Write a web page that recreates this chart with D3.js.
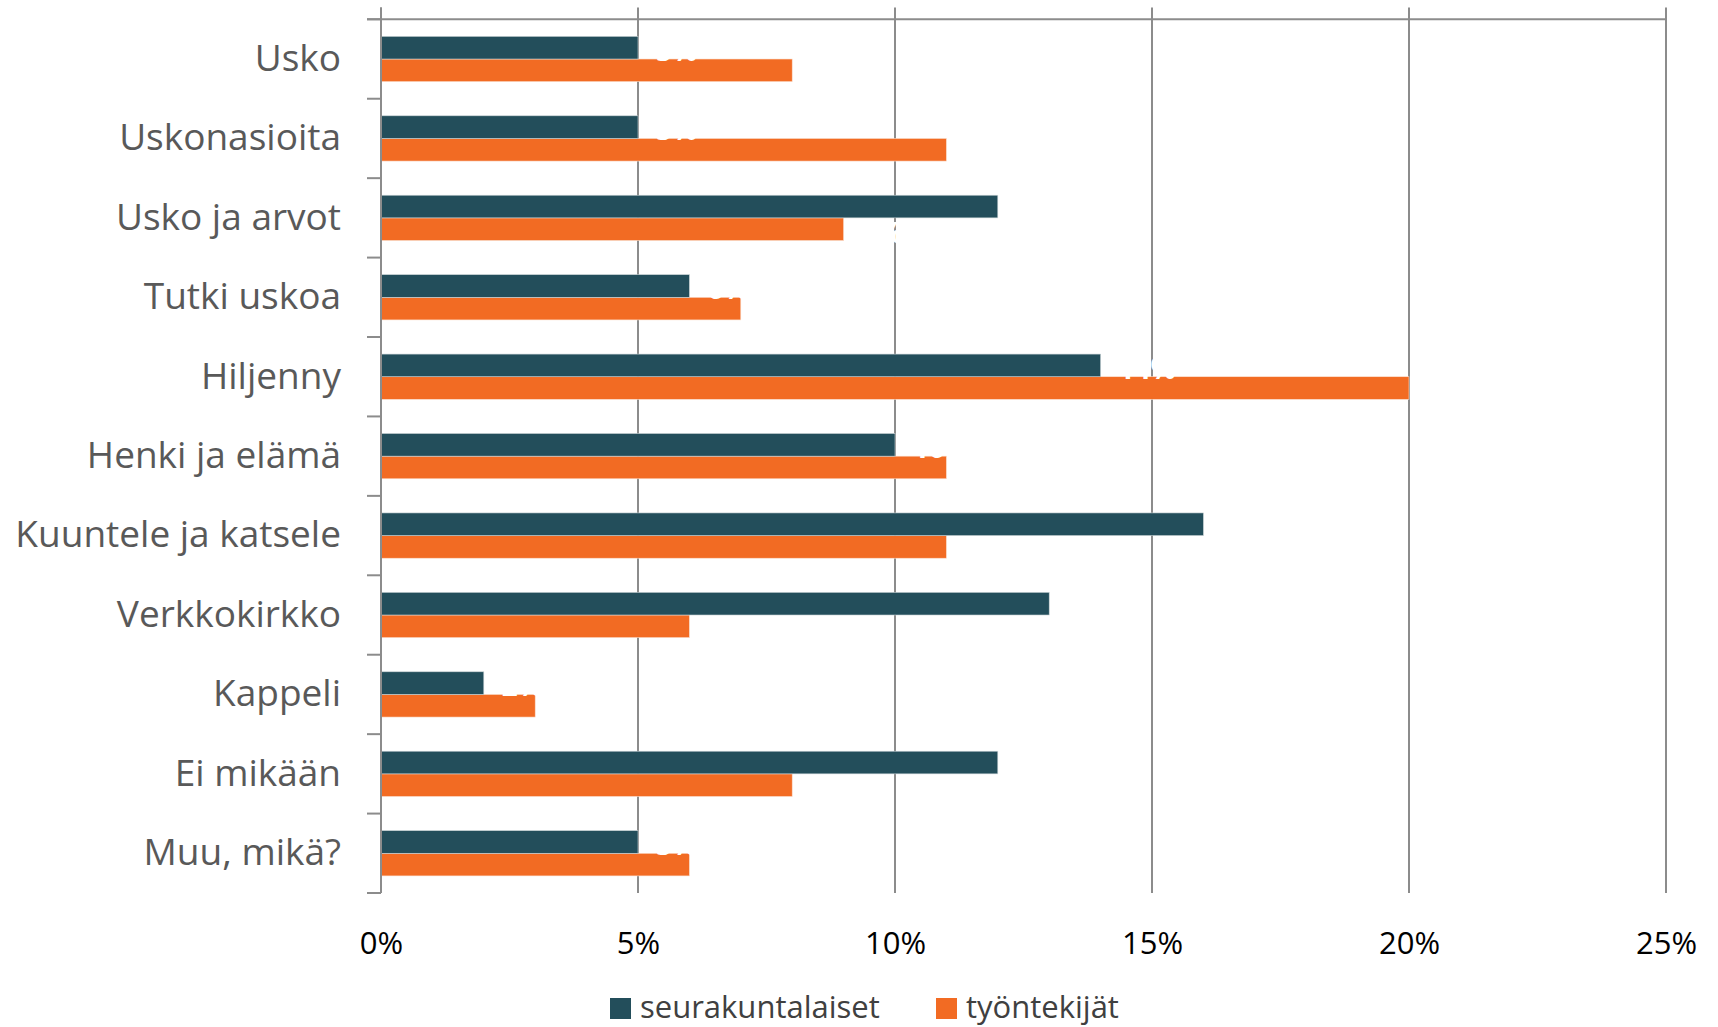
<!DOCTYPE html>
<html>
<head>
<meta charset="utf-8">
<script src="https://cdn.jsdelivr.net/npm/d3@7"></script>
<style>
  body { margin: 0; background: #fff; }
  svg { display: block; }
</style>
</head>
<body>
<div id="chart"></div>
<script>

// categories top to bottom
var categories = ["Usko", "Uskonasioita", "Usko ja arvot", "Tutki uskoa", "Hiljenny",
  "Henki ja elämä", "Kuuntele ja katsele", "Verkkokirkko", "Kappeli", "Ei mikään", "Muu, mikä?"];

var seurakuntalaiset = [0.05, 0.05, 0.12, 0.06, 0.14, 0.10, 0.16, 0.13, 0.02, 0.12, 0.05];
var tyontekijat      = [0.08, 0.11, 0.09, 0.07, 0.20, 0.11, 0.11, 0.06, 0.03, 0.08, 0.06];

var seriesNames = ["seurakuntalaiset", "työntekijät"];
var xTicks = [0, 0.05, 0.10, 0.15, 0.20, 0.25];

var colors = ["#234E5B", "#F26B23"];
var gridColor = "#8c8c8c";
var font = "'Open Sans', 'Noto Sans', sans-serif";

var width = 1718, height = 1027;

var svg = d3.select("#chart").append("svg")
  .attr("width", width)
  .attr("height", height);

var x = d3.scaleLinear()
  .domain([0, 0.25])
  .range([381, 1666]);

var y = d3.scaleBand()
  .domain(categories)
  .range([19.3, 893])
  .paddingInner(0.43)
  .paddingOuter(0.215);

var sub = d3.scaleBand()
  .domain(seriesNames)
  .range([0, y.bandwidth()]);

// vertical gridlines
svg.append("g")
  .selectAll("line")
  .data(xTicks)
  .enter()
  .append("line")
  .attr("x1", function(d){ return x(d); })
  .attr("x2", function(d){ return x(d); })
  .attr("y1", 7.5)
  .attr("y2", 893)
  .attr("stroke", gridColor)
  .attr("stroke-width", 2);

// top border line
svg.append("line")
  .attr("x1", 367).attr("x2", x(0.25))
  .attr("y1", 19.3).attr("y2", 19.3)
  .attr("stroke", gridColor)
  .attr("stroke-width", 2);

// category boundary ticks
var bounds = categories.map(function(c){ return y(c) - y.step() * y.paddingInner() / 2; });
bounds.push(893);
svg.append("g")
  .selectAll("line")
  .data(bounds)
  .enter()
  .append("line")
  .attr("x1", 367).attr("x2", x(0))
  .attr("y1", function(d){ return d; })
  .attr("y2", function(d){ return d; })
  .attr("stroke", gridColor)
  .attr("stroke-width", 2);

var rows = categories.map(function(c, i){
  return { cat: c, vals: [seurakuntalaiset[i], tyontekijat[i]] };
});

// orange bars first
svg.append("g")
  .selectAll("rect")
  .data(rows)
  .enter()
  .append("rect")
  .attr("x", x(0))
  .attr("y", function(d){ return y(d.cat) + sub(seriesNames[1]); })
  .attr("width", function(d){ return x(d.vals[1]) - x(0); })
  .attr("height", sub.bandwidth())
  .attr("fill", colors[1])
  .attr("stroke", "#fbe0d0")
  .attr("stroke-width", 0.6);

// white data labels (mostly hidden, as in the original)
[0, 1].forEach(function(s){
  svg.append("g")
    .selectAll("text")
    .data(rows)
    .enter()
    .append("text")
    .attr("x", function(d){ return x(d.vals[s]) + 18; })
    .attr("y", function(d){ return y(d.cat) + sub(seriesNames[s]) + sub.bandwidth() + 2; })
    .attr("fill", "#fff")
    .style("font-family", font)
    .style("font-size", "28px")
    .style("font-weight", "bold")
    .text(function(d){ return Math.round(d.vals[s] * 100) + "%"; });
});

// dark bars on top
svg.append("g")
  .selectAll("rect")
  .data(rows)
  .enter()
  .append("rect")
  .attr("x", x(0))
  .attr("y", function(d){ return y(d.cat) + sub(seriesNames[0]); })
  .attr("width", function(d){ return x(d.vals[0]) - x(0); })
  .attr("height", sub.bandwidth())
  .attr("fill", colors[0])
  .attr("stroke", "#c8d2d5")
  .attr("stroke-width", 0.6);

// left axis line
svg.append("line")
  .attr("x1", x(0)).attr("x2", x(0))
  .attr("y1", 7.5).attr("y2", 893)
  .attr("stroke", gridColor)
  .attr("stroke-width", 2);

// category labels
var yAxis = d3.axisLeft(y).tickSize(0).tickPadding(40);
var yAxisGroup = svg.append("g")
  .attr("transform", "translate(" + x(0) + ",0)")
  .call(yAxis);
yAxisGroup.select(".domain").remove();
yAxisGroup.selectAll("text")
  .style("font-family", font)
  .style("font-size", "37px")
  .attr("fill", "#595959");

// x tick labels
var xAxis = d3.axisBottom(x)
  .tickValues(xTicks)
  .tickSize(0)
  .tickPadding(0)
  .tickFormat(d3.format(".0%"));
var xAxisGroup = svg.append("g")
  .attr("transform", "translate(0,943)")
  .call(xAxis);
xAxisGroup.select(".domain").remove();
xAxisGroup.selectAll("text")
  .attr("dy", "0.35em")
  .style("font-family", font)
  .style("font-size", "31px")
  .attr("fill", "#000");

// legend
var legendX = [610, 936];
var legend = svg.append("g")
  .selectAll("g")
  .data(seriesNames)
  .enter()
  .append("g")
  .attr("transform", function(d, i){ return "translate(" + legendX[i] + ",998)"; });

legend.append("rect")
  .attr("width", 21)
  .attr("height", 21)
  .attr("fill", function(d, i){ return colors[i]; });

legend.append("text")
  .attr("x", 30)
  .attr("y", 9)
  .attr("dy", "0.35em")
  .style("font-family", font)
  .style("font-size", "31px")
  .attr("fill", "#404040")
  .text(function(d){ return d; });

</script>
</body>
</html>
